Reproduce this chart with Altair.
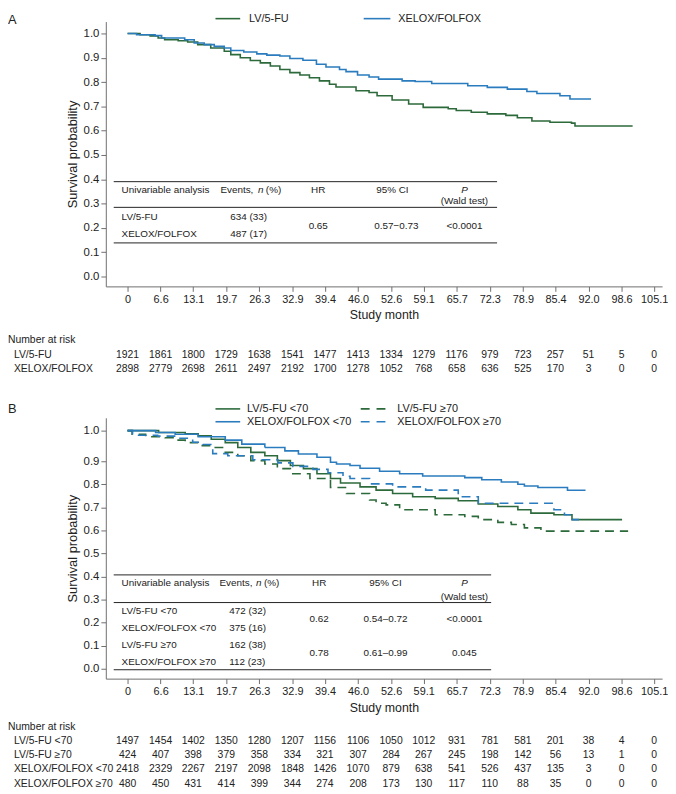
import altair as alt
import pandas as pd

GREEN = "#2d6a3b"
BLUE = "#2b7cbf"
FONT = "Liberation Sans"
TXT = "#222222"
AXC = "#6e6e6e"

# ---------------- data ----------------
x_ticks = [0, 6.6, 13.1, 19.7, 26.3, 32.9, 39.4, 46.0, 52.6, 59.1, 65.7, 72.3, 78.9, 85.4, 92.0, 98.6, 105.1]
y_ticks = [0.0, 0.1, 0.2, 0.3, 0.4, 0.5, 0.6, 0.7, 0.8, 0.9, 1.0]

# Panel A curves
a_lv_month = [0, 2.5, 4.5, 6.1, 7.4, 10.1, 12.0, 14.0, 16.6, 19.3, 20.6, 22.5, 24.5, 26.5, 28.5, 30.4, 32.4, 34.4,
              36.3, 38.3, 40.3, 41.6, 45.6, 48.2, 49.8, 52.8, 56.1, 59.0, 64.0, 65.6, 68.6, 71.8, 75.5, 77.8,
              80.7, 84.3, 88.6, 89.3, 100.8]
a_lv_surv = [1.0, 0.995, 0.99, 0.981, 0.974, 0.970, 0.965, 0.954, 0.940, 0.927, 0.913, 0.900, 0.889, 0.879, 0.866,
             0.852, 0.839, 0.829, 0.818, 0.805, 0.791, 0.780, 0.764, 0.757, 0.744, 0.726, 0.710, 0.696, 0.690,
             0.683, 0.676, 0.669, 0.663, 0.653, 0.640, 0.635, 0.631, 0.619, 0.619]
a_xf_month = [0, 1.8, 5.5, 6.8, 11.4, 13.3, 15.3, 17.3, 19.3, 20.6, 23.2, 25.8, 27.8, 30.4, 32.4, 35.0, 37.7, 39.6,
              42.3, 43.6, 45.9, 48.2, 50.1, 54.8, 57.4, 60.7, 67.9, 71.8, 75.8, 79.7, 81.7, 86.3, 88.3, 92.5]
a_xf_surv = [1.0, 0.995, 0.991, 0.981, 0.974, 0.961, 0.954, 0.947, 0.940, 0.930, 0.924, 0.916, 0.911, 0.907, 0.897,
             0.890, 0.873, 0.862, 0.852, 0.843, 0.829, 0.821, 0.812, 0.805, 0.802, 0.794, 0.785, 0.778, 0.771,
             0.761, 0.753, 0.744, 0.730, 0.730]

# Panel B curves
b_lv_lt_month = [0, 6.2, 11.5, 14.1, 16.7, 19.5, 22.0, 24.6, 27.4, 29.9, 32.5, 35.1, 37.8, 40.5, 42.5, 46.4, 49.6,
                 52.9, 56.9, 61.4, 66.0, 70.0, 73.9, 77.9, 80.5, 85.1, 88.7, 98.7]
b_lv_lt_surv = [1.0, 0.994, 0.990, 0.983, 0.972, 0.961, 0.945, 0.929, 0.918, 0.902, 0.882, 0.868, 0.846, 0.825,
                0.806, 0.789, 0.775, 0.760, 0.746, 0.739, 0.729, 0.715, 0.704, 0.690, 0.675, 0.668, 0.647, 0.647]
b_lv_ge_month = [0, 0.9, 3.6, 7.5, 9.5, 11.5, 14.1, 16.7, 19.5, 22.0, 24.6, 27.4, 29.9, 32.5, 36.4, 40.5, 43.7, 48.3,
                 49.6, 51.6, 54.3, 61.4, 67.3, 70.0, 73.9, 76.6, 79.2, 82.5, 99.9]
b_lv_ge_surv = [1.0, 0.988, 0.980, 0.977, 0.969, 0.961, 0.951, 0.945, 0.929, 0.918, 0.902, 0.888, 0.868, 0.846,
                0.825, 0.786, 0.760, 0.732, 0.718, 0.711, 0.690, 0.668, 0.661, 0.647, 0.635, 0.626, 0.611, 0.597,
                0.597]
b_xf_lt_month = [0, 5.6, 9.5, 14.1, 19.5, 22.8, 27.4, 31.4, 34.1, 37.8, 40.5, 41.7, 44.4, 46.4, 50.3, 54.3, 58.9,
                 67.3, 70.7, 74.6, 77.9, 79.2, 81.9, 87.8, 91.4]
b_xf_lt_surv = [1.0, 0.994, 0.988, 0.980, 0.969, 0.956, 0.945, 0.934, 0.924, 0.913, 0.896, 0.888, 0.882, 0.870,
                0.857, 0.846, 0.836, 0.829, 0.820, 0.810, 0.800, 0.793, 0.786, 0.774, 0.774]
b_xf_ge_month = [0, 1.0, 6.0, 10.0, 13.0, 15.0, 17.0, 20.0, 25.0, 30.0, 33.0, 37.0, 40.0, 43.0, 44.4, 48.3, 52.9,
                 59.5, 66.0, 70.0, 85.1, 87.2, 88.8, 90.1]
b_xf_ge_surv = [1.0, 0.985, 0.982, 0.975, 0.962, 0.955, 0.925, 0.918, 0.905, 0.893, 0.878, 0.865, 0.850, 0.835,
                0.825, 0.802, 0.789, 0.775, 0.746, 0.718, 0.690, 0.668, 0.647, 0.647]

# Tables
a_groups = ["LV/5-FU", "XELOX/FOLFOX"]
a_events = ["634 (33)", "487 (17)"]
a_hr = ["0.65"]
a_ci = ["0.57\u22120.73"]
a_p = ["<0.0001"]

b_groups = ["LV/5-FU <70", "XELOX/FOLFOX <70", "LV/5-FU \u226570", "XELOX/FOLFOX \u226570"]
b_events = ["472 (32)", "375 (16)", "162 (38)", "112 (23)"]
b_hr = ["0.62", "0.78"]
b_ci = ["0.54\u20130.72", "0.61\u20130.99"]
b_p = ["<0.0001", "0.045"]

# Number at risk
a_risk_labels = ["LV/5-FU", "XELOX/FOLFOX"]
a_risk = [
    [1921, 1861, 1800, 1729, 1638, 1541, 1477, 1413, 1334, 1279, 1176, 979, 723, 257, 51, 5, 0],
    [2898, 2779, 2698, 2611, 2497, 2192, 1700, 1278, 1052, 768, 658, 636, 525, 170, 3, 0, 0],
]
b_risk_labels = ["LV/5-FU <70", "LV/5-FU \u226570", "XELOX/FOLFOX <70", "XELOX/FOLFOX \u226570"]
b_risk = [
    [1497, 1454, 1402, 1350, 1280, 1207, 1156, 1106, 1050, 1012, 931, 781, 581, 201, 38, 4, 0],
    [424, 407, 398, 379, 358, 334, 321, 307, 284, 267, 245, 198, 142, 56, 13, 1, 0],
    [2418, 2329, 2267, 2197, 2098, 1848, 1426, 1070, 879, 638, 541, 526, 437, 135, 3, 0, 0],
    [480, 450, 431, 414, 399, 344, 274, 208, 173, 130, 117, 110, 88, 35, 0, 0, 0],
]

# ---------------- layout ----------------
W = 563
HA = 268
HB = 264
TS = 10     # table font size
RS = 10.5   # risk font size

xscale = alt.Scale(domain=[-4.34, 106.68], nice=False, zero=False)
yscaleA = alt.Scale(domain=[-0.0407, 1.0488], nice=False, zero=False)
yscaleB = alt.Scale(domain=[-0.0427, 0.9, 1.0, 1.042], range=[HB, 44, 13, 0], nice=False, zero=False)

xaxis = alt.Axis(values=x_ticks, labelExpr="datum.value == 0 ? '0' : format(datum.value, '.1f')",
                 tickSize=5, labelPadding=2, titlePadding=5, domainColor=AXC, tickColor=AXC,
                 labelColor=TXT, titleColor=TXT, labelFontSize=11, titleFontSize=12.5,
                 titleFontWeight="normal", grid=False, labelOverlap=False, labelFlush=False)


def yaxis():
    return alt.Axis(values=y_ticks, format=".1f", tickSize=5, labelPadding=2, titlePadding=4,
                    domainColor=AXC, tickColor=AXC, labelColor=TXT, titleColor=TXT,
                    labelFontSize=11.5, titleFontSize=13, titleFontWeight="normal", grid=False,
                    labelOverlap=False, labelFlush=False)


def xenc():
    return alt.X("month:Q", scale=xscale, axis=xaxis, title="Study month")


dummy = pd.DataFrame({"k": [0]})


def txt(s, x, y, size=TS, align="left", style="normal", baseline="middle"):
    return alt.Chart(dummy).mark_text(text=s, align=align, baseline=baseline, fontSize=size,
                                      fontStyle=style, font=FONT, color=TXT).encode(
        x=alt.value(x), y=alt.value(y))


def hline(x1, x2, y, color=TXT, width=1.0, dash=None):
    kw = {"strokeDash": dash} if dash else {}
    return alt.Chart(dummy).mark_rule(color=color, strokeWidth=width, **kw).encode(
        x=alt.value(x1), x2=alt.value(x2), y=alt.value(y))


def curve_df(series_list):
    rows = []
    for name, ms, ss in series_list:
        for i, (m, s) in enumerate(zip(ms, ss)):
            rows.append({"series": name, "month": m, "surv": s, "idx": i})
    return pd.DataFrame(rows)


def risk_layers(labels, counts, y0, step):
    layers = []
    for j, (lab, cnt) in enumerate(zip(labels, counts)):
        y = y0 + j * step
        layers.append(txt(lab, -93, y, size=RS))
        df = pd.DataFrame({"month": x_ticks, "n": [str(c) for c in cnt]})
        layers.append(alt.Chart(df).mark_text(fontSize=RS, font=FONT, color=TXT, align="center",
                                              baseline="middle").encode(
            x=xenc(), y=alt.value(y), text="n:N"))
    return layers


# ---------------- Panel A ----------------
dfA = curve_df([("LV/5-FU", a_lv_month, a_lv_surv), ("XELOX/FOLFOX", a_xf_month, a_xf_surv)])
curvesA = alt.Chart(dfA).mark_line(interpolate="step-after", strokeWidth=1.6).encode(
    x=xenc(),
    y=alt.Y("surv:Q", scale=yscaleA, axis=yaxis(), title="Survival probability"),
    color=alt.Color("series:N", scale=alt.Scale(domain=a_groups, range=[GREEN, BLUE]), legend=None),
    order="idx:Q",
)

layersA = [curvesA,
           txt("A", -99, -8, size=13, baseline="top"),
           hline(111, 136, -3, GREEN, 1.6), txt(a_groups[0], 145, -3, size=11),
           hline(261, 288, -3, BLUE, 1.6), txt(a_groups[1], 296, -3, size=11),
           # table
           hline(8, 396, 162), hline(8, 396, 188), hline(8, 396, 224),
           txt("Univariable analysis", 16, 170),
           txt("Events,", 116, 170), txt("n", 154, 170, style="italic"), txt("(%)", 162, 170),
           txt("HR", 215, 170, align="center"), txt("95% CI", 290, 170, align="center"),
           txt("P", 363, 170, align="center", style="italic"), txt("(Wald test)", 363, 182, align="center"),
           txt(a_groups[0], 16, 198), txt(a_groups[1], 16, 215),
           txt(a_events[0], 126, 198), txt(a_events[1], 126, 215),
           txt(a_hr[0], 215, 207, align="center"), txt(a_ci[0], 294, 207, align="center"),
           txt(a_p[0], 363, 207, align="center"),
           txt("Number at risk", -99, 322, size=RS),
           ] + risk_layers(a_risk_labels, a_risk, 337, 15)

panelA = alt.layer(*layersA).properties(width=W, height=HA)

# ---------------- Panel B ----------------
dfB = curve_df([
    (b_groups[0], b_lv_lt_month, b_lv_lt_surv),
    (b_groups[1], b_xf_lt_month, b_xf_lt_surv),
    (b_groups[2], b_lv_ge_month, b_lv_ge_surv),
    (b_groups[3], b_xf_ge_month, b_xf_ge_surv),
])
curvesB = alt.Chart(dfB).mark_line(interpolate="step-after", strokeWidth=1.6).encode(
    x=xenc(),
    y=alt.Y("surv:Q", scale=yscaleB, axis=yaxis(), title="Survival probability"),
    color=alt.Color("series:N", scale=alt.Scale(domain=b_groups, range=[GREEN, BLUE, GREEN, BLUE]),
                    legend=None),
    strokeDash=alt.StrokeDash("series:N", scale=alt.Scale(domain=b_groups,
                                                          range=[[1, 0], [1, 0], [9, 6], [9, 6]]),
                              legend=None),
    order="idx:Q",
)

layersB = [curvesB,
           txt("B", -99, -15, size=13, baseline="top"),
           hline(111, 136, -9, GREEN, 1.6), txt(b_groups[0], 143, -9, size=11),
           hline(111, 136, 4, BLUE, 1.6), txt(b_groups[1], 143, 4, size=11),
           hline(258, 283, -9, GREEN, 1.6, [9, 7]), txt(b_groups[2], 295, -9, size=11),
           hline(258, 283, 4, BLUE, 1.6, [9, 7]), txt(b_groups[3], 295, 4, size=11),
           # table
           hline(8, 390, 159), hline(8, 390, 187), hline(8, 390, 255),
           txt("Univariable analysis", 16, 167),
           txt("Events,", 115, 167), txt("n", 152, 167, style="italic"), txt("(%)", 160, 167),
           txt("HR", 216, 167, align="center"), txt("95% CI", 283, 167, align="center"),
           txt("P", 363, 167, align="center", style="italic"), txt("(Wald test)", 363, 181, align="center"),
           txt(b_groups[0], 16, 196), txt(b_groups[1], 16, 213),
           txt(b_groups[2], 16, 230), txt(b_groups[3], 16, 247),
           txt(b_events[0], 125, 196), txt(b_events[1], 125, 213),
           txt(b_events[2], 125, 230), txt(b_events[3], 125, 247),
           txt(b_hr[0], 216, 204, align="center"), txt(b_ci[0], 283, 204, align="center"),
           txt(b_p[0], 363, 204, align="center"),
           txt(b_hr[1], 216, 238, align="center"), txt(b_ci[1], 283, 238, align="center"),
           txt(b_p[1], 363, 238, align="center"),
           txt("Number at risk", -99, 313, size=RS),
           ] + risk_layers(b_risk_labels, b_risk, 327, 14.4)

panelB = alt.layer(*layersB).properties(width=W, height=HB)

chart = alt.vconcat(panelA, panelB, spacing=28).properties(
    padding=0, background="white"
).configure(font=FONT).configure_view(stroke=None)

chart.save("out.html", embed_options={"renderer": "svg", "actions": False})
